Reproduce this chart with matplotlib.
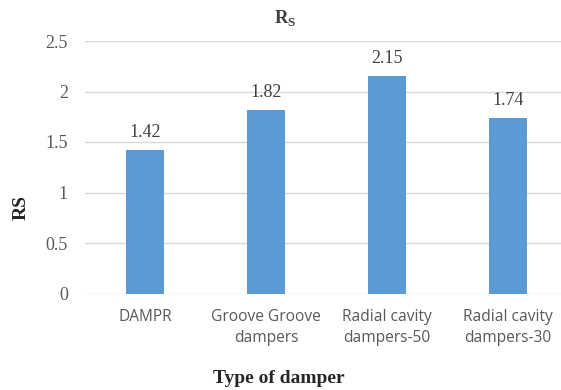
import matplotlib
matplotlib.use("Agg")
import matplotlib.pyplot as plt

plt.rcParams['mathtext.fontset'] = 'custom'
plt.rcParams['mathtext.bf'] = 'Liberation Serif:bold'
plt.rcParams['mathtext.rm'] = 'Liberation Serif'

categories = ["DAMPR", "Groove Groove\ndampers", "Radial cavity\ndampers-50", "Radial cavity\ndampers-30"]
values = [1.42, 1.82, 2.15, 1.74]
yticks = [0, 0.5, 1, 1.5, 2, 2.5]
ytick_labels = ["0", "0.5", "1", "1.5", "2", "2.5"]

W, H = 561, 390
fig = plt.figure(figsize=(W/100, H/100), dpi=100)
ax = fig.add_axes([84.5/W, 1-293.5/H, 484/W, (293.5-41)/H])

x = list(range(len(categories)))
ax.bar(x, values, width=0.31, color="#5B9BD5", zorder=3)
ax.set_xlim(-0.5, len(categories)-0.5)
ax.set_ylim(0, 2.5)
ax.set_yticks(yticks)
ax.set_yticklabels(ytick_labels, family="Liberation Serif", fontsize=13, color="#595959")
ax.set_xticks(x)
ax.set_xticklabels(categories, family="Open Sans", fontsize=11.2, color="#595959",
                   linespacing=1.45)
ax.tick_params(length=0)
ax.tick_params(axis="y", pad=12)
ax.tick_params(axis="x", pad=11)
ax.grid(axis="y", color="#D9D9D9", linewidth=1, zorder=0)
for s in ax.spines.values():
    s.set_visible(False)

for xi, v in zip(x, values):
    ax.annotate(f"{v:.2f}", (xi, v), xytext=(0, 9.4), textcoords="offset points",
                ha="center", va="baseline", family="Liberation Serif", fontsize=13,
                color="#404040")

fig.text(285/W, 1-24/H, r"$\mathbf{R}_{\mathbf{S}}$", ha="center", va="baseline",
         fontsize=13.5, color="#404040")
fig.text(278.5/W, 1-383/H, "Type of damper", ha="center", va="baseline", fontsize=14,
         family="Liberation Serif", fontweight="bold", color="#262626")
fig.text(21.5/W, 1-208/H, "RS", ha="center", va="center", rotation=90, fontsize=14,
         family="Liberation Serif", fontweight="bold", color="#262626")

fig.savefig("out.png", dpi=100)
